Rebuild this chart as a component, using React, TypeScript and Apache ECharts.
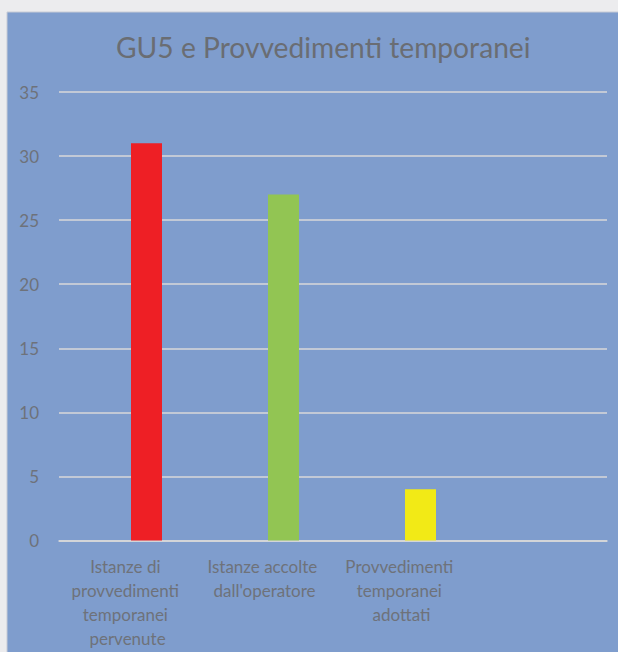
import React, { useEffect, useRef } from "react";
import * as echarts from "echarts";

const title = "GU5 e Provvedimenti temporanei";
const categories = [
  "Istanze di provvedimenti temporanei pervenute",
  "Istanze accolte dall'operatore",
  "Provvedimenti temporanei adottati",
  "",
];
const values = [31, 27, 4, null];
const barColors = ["#ee1f25", "#92c553", "#f2ea16", "#000000"];
const spacerValues = [null, null, null, null];
const yTicks = { min: 0, max: 35, interval: 5 };

export default function App() {
  const ref = useRef<HTMLDivElement>(null);
  useEffect(() => {
    if (!ref.current) return;
    const chart = echarts.init(ref.current, undefined, { renderer: "svg" });
    const font = "Lato";
    chart.setOption({
      animation: false,
      backgroundColor: "#ececee",
      graphic: [
        {
          type: "rect",
          z: -10,
          silent: true,
          shape: { x: 7, y: 12, width: 700, height: 700 },
          style: { fill: "#7f9dcd", stroke: "#c8ccd6", lineWidth: 1 },
        },
      ],
      title: {
        text: title,
        left: 111,
        top: 28,
        textStyle: {
          fontFamily: font,
          fontSize: 28.2,
          fontWeight: "normal",
          color: "#6a6d73",
        },
      },
      grid: { left: 59, right: 11, top: 92, bottom: 111.5, containLabel: false },
      xAxis: {
        type: "category",
        data: categories,
        axisLine: { show: true, lineStyle: { color: "#d9d9d9", width: 1.5 } },
        axisTick: { show: false },
        axisLabel: {
          interval: 0,
          margin: 14,
          width: 132,
          overflow: "break",
          lineHeight: 24,
          fontFamily: font,
          fontSize: 17,
          color: "#6e727a",
        },
      },
      yAxis: {
        type: "value",
        min: yTicks.min,
        max: yTicks.max,
        interval: yTicks.interval,
        axisLine: { show: false },
        axisTick: { show: false },
        splitLine: { lineStyle: { color: "#d9d9d9", width: 1.5 } },
        axisLabel: {
          margin: 20,
          fontFamily: font,
          fontSize: 17,
          color: "#6e727a",
        },
      },
      series: [
        {
          type: "bar",
          data: spacerValues,
          barWidth: 31,
          barGap: "22.6%",
        },
        {
          type: "bar",
          barWidth: 31,
          barGap: "22.6%",
          data: values.map((v, i) => ({ value: v, itemStyle: { color: barColors[i] } })),
        },
      ],
    });
    return () => chart.dispose();
  }, []);
  return (
    <div
      ref={ref}
      style={{ position: "fixed", left: 0, top: 0, width: 618, height: 652 }}
    />
  );
}
